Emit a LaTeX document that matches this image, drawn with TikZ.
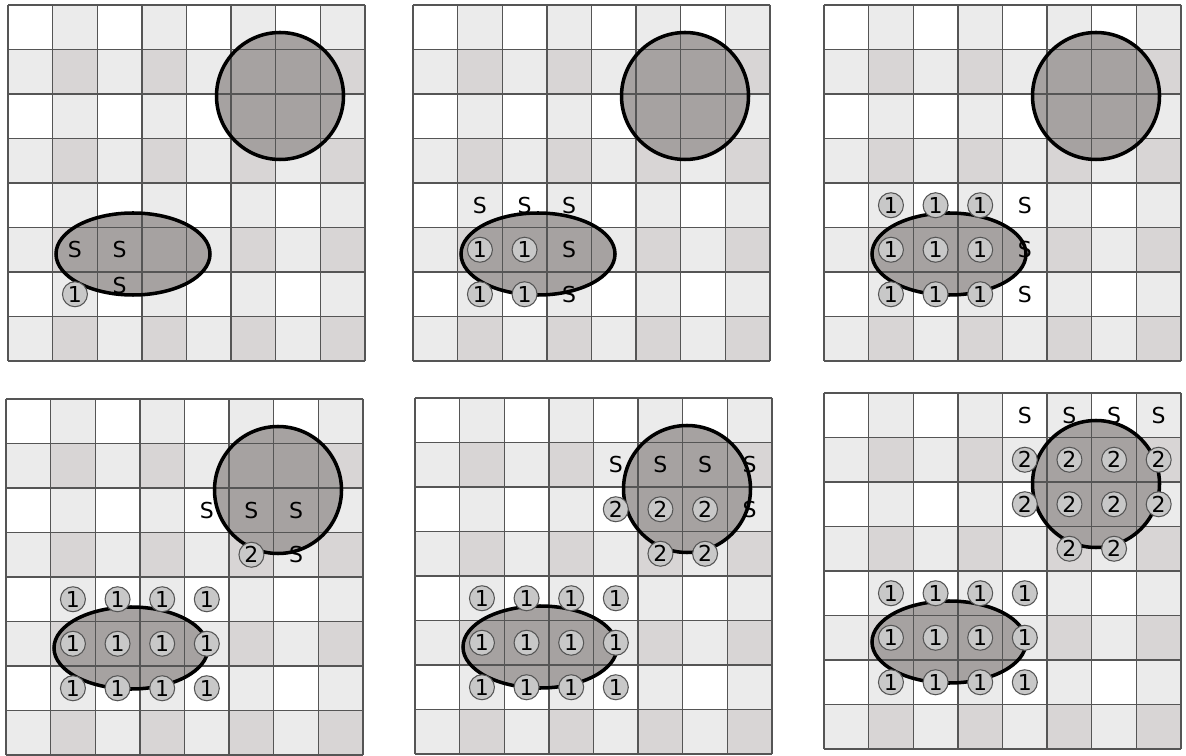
\documentclass[tikz,border=0pt]{standalone}
\usepackage{fontspec}
\setmainfont{DejaVu Sans}
\usepackage{xcolor}
\usepackage{tikz}
\definecolor{cellgray}{RGB}{235,235,235}
\definecolor{crossgray}{RGB}{216,213,213}
\definecolor{blobgray}{RGB}{166,162,161}
\definecolor{markgray}{RGB}{200,200,200}
\definecolor{gridgray}{RGB}{85,85,85}

\def\cw{44.625}
\def\ch{44.5}

\tikzset{
  seed/.style={font=\fontsize{12.5}{14}\selectfont,inner sep=0pt},
  wave/.style={circle,draw=gridgray,fill=markgray,line width=0.6pt,
    minimum size=0.5cm,inner sep=0pt,font=\fontsize{12.5}{14}\selectfont},
  blob/.style={fill=blobgray},
  outline/.style={draw=black,line width=2pt},
  gridline/.style={gridgray,line width=0.75pt}
}

% one 8x8 board with its two objects
\newcommand{\drawpanel}{%
  \foreach \c in {1,3,5,7} \fill[cellgray] (\c*\cw,0) rectangle ++(\cw,8*\ch);
  \foreach \r in {1,3,5,7} \fill[cellgray] (0,\r*\ch) rectangle ++(8*\cw,\ch);
  \foreach \c in {1,3,5,7} \foreach \r in {1,3,5,7}
    \fill[crossgray] (\c*\cw,\r*\ch) rectangle ++(\cw,\ch);
  \fill[blob] (272,91) circle (63.5);
  \fill[blob] (125,249) ellipse (77 and 41);
  \foreach \i in {0,...,8} {
    \draw[gridline] (\i*\cw,0) -- (\i*\cw,8*\ch);
    \draw[gridline] (0,\i*\ch) -- (8*\cw,\i*\ch);}
  \draw[outline] (272,91) circle (63.5);
  \draw[outline] (125,249) ellipse (77 and 41);
}

\begin{document}
\begin{tikzpicture}[x=0.02cm,y=-0.02cm]
  \useasboundingbox (0,0) rectangle (1186,756);
  % step 1
  \begin{scope}[shift={(8,5)}]
    \drawpanel
    \foreach \c/\r in {1/5,2/5}
      \node[seed] (pas-\c-\r) at ({(\c+0.5)*\cw},{(\r+0.5)*\ch}) {S};
    \node[seed] (pas-2-6) at ({2.5*\cw},{6.3*\ch}) {S};
    \node[wave] (paw-1-6) at ({1.5*\cw},{6.5*\ch}) {1};
  \end{scope}
  % step 2
  \begin{scope}[shift={(413,5)}]
    \drawpanel
    \foreach \c/\r in {1/4,2/4,3/4,3/5,3/6}
      \node[seed] (pbs-\c-\r) at ({(\c+0.5)*\cw},{(\r+0.5)*\ch}) {S};
    \foreach \c/\r in {1/5,2/5,1/6,2/6}
      \node[wave] (pbw-\c-\r) at ({(\c+0.5)*\cw},{(\r+0.5)*\ch}) {1};
  \end{scope}
  % step 3
  \begin{scope}[shift={(824,5)}]
    \drawpanel
    \foreach \r in {4,5,6}
      \node[seed] (pcs-4-\r) at ({4.5*\cw},{(\r+0.5)*\ch}) {S};
    \foreach \c in {1,2,3} \foreach \r in {4,5,6}
      \node[wave] (pcw-\c-\r) at ({(\c+0.5)*\cw},{(\r+0.5)*\ch}) {1};
  \end{scope}
  % step 4
  \begin{scope}[shift={(6,399)}]
    \drawpanel
    \foreach \c/\r in {4/2,5/2,6/2,6/3}
      \node[seed] (pds-\c-\r) at ({(\c+0.5)*\cw},{(\r+0.5)*\ch}) {S};
    \foreach \c in {1,...,4} \foreach \r in {4,5,6}
      \node[wave] (pdw-\c-\r) at ({(\c+0.5)*\cw},{(\r+0.5)*\ch}) {1};
    \node[wave] (pdw-5-3) at ({5.5*\cw},{3.5*\ch}) {2};
  \end{scope}
  % step 5
  \begin{scope}[shift={(415,398)}]
    \drawpanel
    \foreach \c/\r in {4/1,5/1,6/1,7/1,7/2}
      \node[seed] (pes-\c-\r) at ({(\c+0.5)*\cw},{(\r+0.5)*\ch}) {S};
    \foreach \c in {1,...,4} \foreach \r in {4,5,6}
      \node[wave] (pew-\c-\r) at ({(\c+0.5)*\cw},{(\r+0.5)*\ch}) {1};
    \foreach \c/\r in {4/2,5/2,6/2,5/3,6/3}
      \node[wave] (pew-\c-\r) at ({(\c+0.5)*\cw},{(\r+0.5)*\ch}) {2};
  \end{scope}
  % step 6
  \begin{scope}[shift={(824,393)}]
    \drawpanel
    \foreach \c in {4,...,7}
      \node[seed] (pfs-\c-0) at ({(\c+0.5)*\cw},{0.5*\ch}) {S};
    \foreach \c in {1,...,4} \foreach \r in {4,5,6}
      \node[wave] (pfw-\c-\r) at ({(\c+0.5)*\cw},{(\r+0.5)*\ch}) {1};
    \foreach \c/\r in {4/1,5/1,6/1,7/1,4/2,5/2,6/2,7/2,5/3,6/3}
      \node[wave] (pfw-\c-\r) at ({(\c+0.5)*\cw},{(\r+0.5)*\ch}) {2};
  \end{scope}
\end{tikzpicture}
\end{document}
